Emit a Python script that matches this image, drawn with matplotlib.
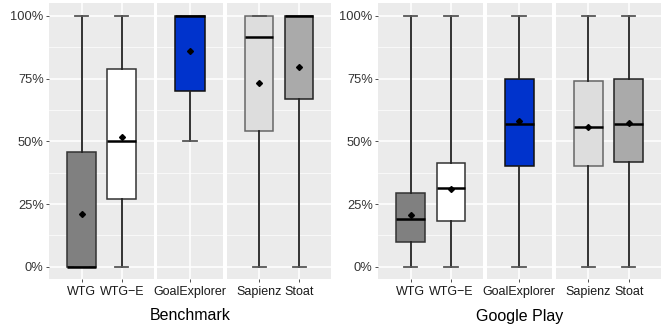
import matplotlib.pyplot as plt
import numpy as np

plt.rcParams['font.family'] = ['Liberation Sans', 'DejaVu Sans']

# tools, in facet order
tools = ["WTG", "WTG\u2212E", "GoalExplorer", "Sapienz", "Stoat"]
facets = [[0, 1], [2], [3, 4]]

# Benchmark (%)
bench_lo = [0, 0, 50, 0, 0]
bench_q1 = [0, 27.0, 70.0, 54.3, 66.7]
bench_med = [0, 50.0, 100, 91.6, 100]
bench_q3 = [45.8, 78.7, 100, 100, 100]
bench_hi = [100, 100, 100, 100, 100]
bench_mean = [21.2, 51.7, 85.9, 73.4, 79.5]

# Google Play (%)
gp_lo = [0, 0, 0, 0, 0]
gp_q1 = [10.0, 18.2, 40.1, 40.1, 41.6]
gp_med = [19.0, 31.2, 57.0, 55.6, 57.0]
gp_q3 = [29.3, 41.3, 74.9, 74.0, 74.9]
gp_hi = [100, 100, 100, 100, 100]
gp_mean = [20.8, 30.9, 57.9, 55.6, 57.4]

fills = ["#808080", "#FFFFFF", "#0033CC", "#DDDDDD", "#AAAAAA"]
edges = ["#333333", "#333333", "#111111", "#666666", "#222222"]

W, H = 664, 330
fig = plt.figure(figsize=(W / 100, H / 100), dpi=100)

# panel pixel extents (left, right) for each group
groups = [
    ("Benchmark", (bench_lo, bench_q1, bench_med, bench_q3, bench_hi, bench_mean),
     [(49.3, 154.0), (157.3, 222.7), (227.3, 331.0)]),
    ("Google Play", (gp_lo, gp_q1, gp_med, gp_q3, gp_hi, gp_mean),
     [(378.3, 483.3), (486.5, 551.7), (556.0, 661.0)]),
]
top_px, bot_px = 3.3, 279.3

for title, (lo, q1, med, q3, hi, mean), extents in groups:
    for k, (idx, (x0, x1)) in enumerate(zip(facets, extents)):
        ax = fig.add_axes([x0 / W, 1 - bot_px / H, (x1 - x0) / W, (bot_px - top_px) / H])
        ax.set_facecolor("#EBEBEB")
        stats = []
        for i in idx:
            stats.append(dict(whislo=lo[i] / 100, q1=q1[i] / 100, med=med[i] / 100,
                              q3=q3[i] / 100, whishi=hi[i] / 100, mean=mean[i] / 100,
                              fliers=[]))
        pos = np.arange(1, len(idx) + 1)
        bp = ax.bxp(stats, positions=pos, widths=0.71, capwidths=0.33,
                    showmeans=True, patch_artist=True, showfliers=False,
                    medianprops=dict(color="black", lw=1.8),
                    whiskerprops=dict(color="#222222", lw=1.3),
                    capprops=dict(color="#555555", lw=1.3),
                    meanprops=dict(marker="D", markerfacecolor="black",
                                   markeredgecolor="black", markersize=3),
                    zorder=3)
        for j, i in enumerate(idx):
            bp["boxes"][j].set_facecolor(fills[i])
            bp["boxes"][j].set_edgecolor(edges[i])
            bp["boxes"][j].set_linewidth(1.1)
        ax.set_xlim(0.2, len(idx) + 0.8)
        ax.set_ylim(-0.05, 1.05)
        ax.set_yticks([0, 0.25, 0.5, 0.75, 1.0])
        ax.set_yticks([0.125, 0.375, 0.625, 0.875], minor=True)
        ax.set_xticks(pos)
        ax.set_xticklabels([tools[i] for i in idx], fontsize=9, color="#1A1A1A")
        ax.grid(True, which="major", color="white", lw=1.1, zorder=0)
        ax.grid(True, which="minor", axis="y", color="white", lw=0.5, zorder=0)
        ax.set_axisbelow(True)
        for s in ax.spines.values():
            s.set_visible(False)
        ax.tick_params(axis="x", length=2.5, width=0.6, color="#333333", pad=2.5)
        ax.tick_params(axis="y", which="minor", length=0)
        if k == 0:
            ax.set_yticklabels(["0%", "25%", "50%", "75%", "100%"], fontsize=9.3,
                               color="#333333")
            ax.tick_params(axis="y", length=2.5, width=0.6, color="#333333", pad=1.5)
        else:
            ax.tick_params(axis="y", length=0, labelleft=False)
    cx = (extents[0][0] + extents[-1][1]) / 2
    fig.text(cx / W, 1 - 316 / H, title, ha="center", va="center", fontsize=11.5,
             color="black")

fig.savefig("out.png", dpi=100)
